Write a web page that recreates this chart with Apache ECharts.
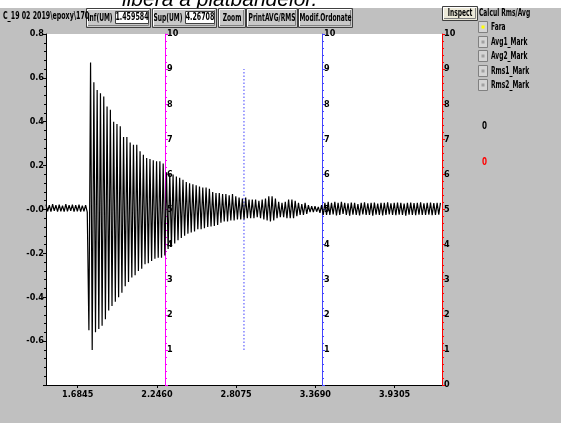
<!DOCTYPE html>
<html>
<head>
<meta charset="utf-8">
<script src="https://cdn.jsdelivr.net/npm/echarts@6/dist/echarts.min.js"></script>
<style>
  html, body { margin: 0; padding: 0; background: #c0c0c0; }
  #chart { width: 561px; height: 423px; }
</style>
</head>
<body>
<div id="chart"></div>
<script>
  // time base of the record (half-period sampling of the oscillation)
  var xRange = [1.459584, 4.26708];
  var sampleStart = 1.4596;
  var sampleStep = 0.0117;

  // noise before the impact
  var preTrigger = [
    0.022, -0.008, 0.02, -0.01, 0.024, -0.006, 0.02, -0.01, 0.022, -0.008,
    0.018, -0.01, 0.024, -0.008, 0.02, -0.006, 0.022, -0.01, 0.02, -0.008,
    0.022, -0.01, 0.018, -0.008, 0.02, -0.012
  ];

  // lower peaks of each cycle after the impact
  var troughs = [
    -0.55, -0.64, -0.56, -0.545, -0.53, -0.5, -0.46, -0.44, -0.42, -0.40,
    -0.38, -0.35, -0.33, -0.31, -0.30, -0.28, -0.27, -0.25, -0.245, -0.235,
    -0.225, -0.22, -0.22, -0.21, -0.18, -0.17, -0.155, -0.14, -0.13, -0.12,
    -0.11, -0.105, -0.1, -0.09, -0.09, -0.085, -0.08, -0.077, -0.075, -0.07,
    -0.06, -0.055, -0.055, -0.05, -0.05, -0.045, -0.045, -0.045, -0.04, -0.04,
    -0.04, -0.035, -0.04, -0.045, -0.05, -0.055, -0.05, -0.04, -0.035, -0.035,
    -0.04, -0.04, -0.04, -0.03, -0.025, -0.025, -0.02, -0.012, -0.012, -0.01,
    -0.015, -0.025, -0.025, -0.025, -0.022, -0.027, -0.025, -0.02, -0.025, -0.028,
    -0.023, -0.025, -0.027, -0.022, -0.025, -0.025, -0.028, -0.023, -0.025, -0.027,
    -0.025, -0.022, -0.025, -0.026, -0.024, -0.025, -0.028, -0.023, -0.025, -0.026,
    -0.024, -0.025, -0.025, -0.024, -0.026, -0.025, -0.023
  ];

  // upper peaks of each cycle after the impact
  var crests = [
    0.67, 0.58, 0.545, 0.53, 0.515, 0.47, 0.455, 0.40, 0.39, 0.38,
    0.33, 0.33, 0.305, 0.295, 0.295, 0.265, 0.25, 0.235, 0.23, 0.225,
    0.22, 0.22, 0.21, 0.17, 0.165, 0.16, 0.15, 0.145, 0.135, 0.125,
    0.12, 0.115, 0.11, 0.105, 0.1, 0.1, 0.095, 0.08, 0.075, 0.075,
    0.07, 0.07, 0.065, 0.07, 0.06, 0.055, 0.05, 0.055, 0.045, 0.045,
    0.045, 0.04, 0.045, 0.05, 0.06, 0.06, 0.05, 0.035, 0.03, 0.035,
    0.045, 0.045, 0.04, 0.03, 0.025, 0.03, 0.02, 0.015, 0.015, 0.012,
    0.02, 0.03, 0.035, 0.03, 0.035, 0.03, 0.035, 0.03, 0.028, 0.032,
    0.03, 0.025, 0.03, 0.033, 0.028, 0.03, 0.032, 0.027, 0.03, 0.03,
    0.033, 0.028, 0.03, 0.032, 0.03, 0.027, 0.03, 0.031, 0.029, 0.03,
    0.033, 0.028, 0.03, 0.031, 0.029, 0.03, 0.03
  ];

  var xTicks = [1.6845, 2.2460, 2.8075, 3.3690, 3.9305];
  var cursorX = 2.863;
  var cursorSpan = [1, 9];

  var UI_FONT = 'bold 10px "DejaVu Sans Condensed", "Liberation Sans Narrow", sans-serif';
  var LABEL_FAMILY = '"DejaVu Sans Condensed", "Liberation Sans Narrow", sans-serif';

  var signal = [];
  preTrigger.forEach(function (v, i) {
    signal.push([sampleStart + i * sampleStep, v]);
  });
  troughs.forEach(function (v, k) {
    var i = preTrigger.length + 2 * k;
    signal.push([sampleStart + i * sampleStep, v]);
    signal.push([sampleStart + (i + 1) * sampleStep, crests[k]]);
  });

  function label(text, x, y, opts) {
    opts = opts || {};
    return {
      type: 'text',
      x: x, y: y, z: 10,
      scaleX: opts.scale || 0.66,
      style: {
        text: text,
        font: UI_FONT,
        fill: opts.color || '#000',
        align: opts.align || 'left',
        verticalAlign: 'middle'
      }
    };
  }

  function button(x, y, w, h, text, fill) {
    var kids = [
      { type: 'rect', z: 10, shape: { x: 0.5, y: 0.5, width: w - 1, height: h - 1 },
        style: { fill: fill || '#c8c8c8', stroke: '#404040', lineWidth: 1 } },
      { type: 'polyline', z: 10, shape: { points: [[1.5, h - 2], [1.5, 1.5], [w - 2, 1.5]] },
        style: { stroke: '#ffffff', fill: null, lineWidth: 1 } },
      { type: 'polyline', z: 10, shape: { points: [[2, h - 2.5], [w - 2.5, h - 2.5], [w - 2.5, 2]] },
        style: { stroke: '#808080', fill: null, lineWidth: 1 } }
    ];
    if (text) {
      kids.push({ type: 'text', z: 11, x: w / 2, y: h / 2, scaleX: 0.66,
        style: { text: text, font: UI_FONT, fill: '#000', align: 'center', verticalAlign: 'middle' } });
    }
    return { type: 'group', x: x, y: y, children: kids };
  }

  function field(x, y, w, h, text) {
    return {
      type: 'group', x: x, y: y,
      children: [
        { type: 'rect', z: 12, shape: { x: 0.5, y: 0.5, width: w - 1, height: h - 1 },
          style: { fill: '#ffffff', stroke: '#404040', lineWidth: 1 } },
        { type: 'text', z: 13, x: w / 2, y: h / 2, scaleX: 0.7,
          style: { text: text, font: UI_FONT, fill: '#000', align: 'center', verticalAlign: 'middle' } }
      ]
    };
  }

  function radio(y, text, on) {
    return {
      type: 'group', x: 478, y: y - 6,
      children: [
        { type: 'rect', z: 10, shape: { x: 0.5, y: 0.5, width: 9, height: 11 },
          style: { fill: '#d4d4d4', stroke: '#808080', lineWidth: 1 } },
        { type: 'rect', z: 11, shape: { x: 3.5, y: 4.5, width: 3, height: 3 },
          style: { fill: on ? '#ffff00' : '#a0a0a0' } },
        { type: 'text', z: 11, x: 13, y: 6, scaleX: 0.66,
          style: { text: text, font: UI_FONT, fill: '#000', align: 'left', verticalAlign: 'middle' } }
      ]
    };
  }

  var graphics = [
    { type: 'rect', z: 1, shape: { x: 0, y: 0, width: 561, height: 8 }, style: { fill: '#ffffff' } },
    { type: 'text', z: 2, x: 122, y: 11,
      style: { text: 'libera a platbandelor.', font: 'italic 21px "Liberation Sans", Arial, sans-serif',
        fill: '#000', align: 'left', verticalAlign: 'bottom' } },
    { type: 'rect', z: 3, shape: { x: 0, y: 8, width: 561, height: 20 }, style: { fill: '#c0c0c0' } },
    button(86, 8, 65, 20, ''),
    label('C_19 02 2019\\epoxy\\170', 3, 16, { scale: 0.7 }),
    label('Inf(UM)', 100, 18, { align: 'center' }),
    field(115, 11, 34, 13, '1.459584'),
    button(152, 8, 65, 20, ''),
    label('Sup(UM)', 168, 18, { align: 'center' }),
    field(185, 11, 30, 13, '4.26708'),
    button(218, 8, 28, 20, 'Zoom'),
    button(246, 8, 52, 20, 'PrintAVG/RMS'),
    button(298, 8, 55, 20, 'Modif.Ordonate'),
    button(442, 6, 36, 15, 'Inspect', '#ece9d8'),
    label('Calcul Rms/Avg', 479, 13),
    radio(27, 'Fara', true),
    radio(42, 'Avg1_Mark', false),
    radio(56, 'Avg2_Mark', false),
    radio(71, 'Rms1_Mark', false),
    radio(85, 'Rms2_Mark', false),
    label('0', 482, 126, { scale: 0.8 }),
    label('0', 482, 162, { scale: 0.8, color: '#ff0000' })
  ];

  function scaleAxis(color, offset, showZero) {
    return {
      type: 'value',
      position: 'right',
      offset: offset,
      min: 0, max: 10, interval: 1,
      axisLine: { show: true, onZero: false, lineStyle: { color: color, width: 1 } },
      axisTick: { show: true, length: 3, lineStyle: { color: color } },
      minorTick: { show: true, splitNumber: 5, length: 2, lineStyle: { color: color } },
      splitLine: { show: false },
      axisLabel: {
        color: '#000', fontFamily: LABEL_FAMILY, fontWeight: 'bold', fontSize: 9, margin: 2,
        formatter: function (v) { return (v === 0 && !showZero) ? '' : String(v); }
      }
    };
  }

  var chart = echarts.init(document.getElementById('chart'), null, { renderer: 'canvas' });

  chart.setOption({
    animation: false,
    backgroundColor: '#c0c0c0',
    graphic: { elements: graphics },
    grid: {
      left: 46, right: 119, top: 34, bottom: 38,
      show: true, backgroundColor: '#ffffff', borderWidth: 0
    },
    xAxis: {
      type: 'value',
      min: xRange[0], max: xRange[1],
      axisLine: { show: true, onZero: false, lineStyle: { color: '#000' } },
      axisTick: { show: true, length: 3, customValues: xTicks, lineStyle: { color: '#000' } },
      splitLine: { show: false },
      axisLabel: {
        customValues: xTicks, color: '#000', fontFamily: LABEL_FAMILY, fontWeight: 'bold',
        fontSize: 9, margin: 5,
        formatter: function (v) { return v.toFixed(4); }
      }
    },
    yAxis: [
      {
        type: 'value',
        position: 'left',
        min: -0.8, max: 0.8, interval: 0.2,
        axisLine: { show: true, onZero: false, lineStyle: { color: '#000' } },
        axisTick: { show: true, length: 3, lineStyle: { color: '#000' } },
        minorTick: { show: true, splitNumber: 5, length: 2, lineStyle: { color: '#000' } },
        splitLine: { show: false },
        axisLabel: {
          color: '#000', fontFamily: LABEL_FAMILY, fontWeight: 'bold', fontSize: 9, margin: 2,
          formatter: function (v) {
            if (Math.abs(v) < 1e-9) return '-0.0';
            if (v < -0.79) return '';
            return v.toFixed(1);
          }
        }
      },
      scaleAxis('#ff0000', 0, true),
      scaleAxis('#4444ff', -120, false),
      scaleAxis('#ff00ff', -277, false)
    ],
    series: [
      {
        type: 'line',
        yAxisIndex: 1,
        data: [[cursorX, cursorSpan[0]], [cursorX, cursorSpan[1]]],
        symbol: 'none',
        silent: true,
        lineStyle: { color: '#8080ff', width: 1.5, type: [1.5, 2] },
        z: 3
      },
      {
        type: 'line',
        yAxisIndex: 0,
        data: signal,
        symbol: 'none',
        sampling: null,
        silent: true,
        lineStyle: { color: '#000000', width: 1.2 },
        z: 4
      }
    ]
  });
</script>
</body>
</html>
